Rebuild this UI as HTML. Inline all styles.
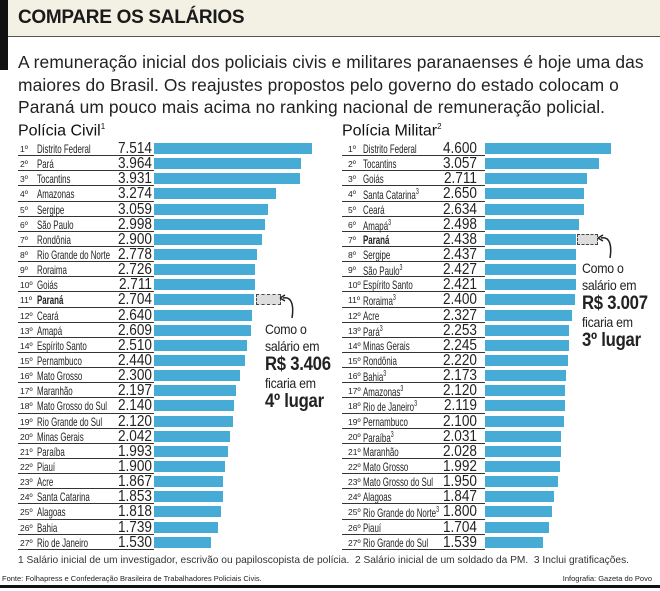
<!DOCTYPE html>
<html><head><meta charset="utf-8"><style>
*{margin:0;padding:0;box-sizing:border-box}
body{width:660px;height:591px;background:#fff;position:relative;overflow:hidden;font-family:"Liberation Sans",sans-serif;color:#222}
.band{position:absolute;left:0;top:0;width:660px;height:37px;background:#f3f1e4;border-bottom:1px solid #555}
.bar0{position:absolute;left:0;top:0;width:8px;height:70px;background:#111}
.title{position:absolute;left:18px;top:7px;font-weight:bold;font-size:19px;letter-spacing:-0.3px;color:#1a1a1a}
.para{position:absolute;left:18px;top:51px;font-size:17.4px;line-height:22.5px;color:#222;letter-spacing:0.1px;white-space:nowrap}
h2{position:absolute;font-size:16px;font-weight:normal;top:122px;color:#111}
h2 sup{font-size:8px}
.tbl{position:absolute;top:141px}
.r{position:relative;height:15.15px}
.lab{position:absolute;left:0;top:0;height:15.15px;border-bottom:1px solid #333}
.rk{position:absolute;top:3px;font-size:8.5px}
.nm{position:absolute;top:1px;font-size:12px;transform:scaleX(0.66);transform-origin:left;white-space:nowrap}
.nm sup{font-size:8px}
.v{position:absolute;top:-1px;font-size:16px;text-align:right;width:60px;transform:scaleX(0.85);transform-origin:right}
.b{position:absolute;top:2px;height:11px;background:#47acd5}
.ph{position:absolute;top:2px;height:11px;background:#ddd;border:1px dashed #444}
.ann{position:absolute;font-size:14px;line-height:17px;color:#222;letter-spacing:-0.3px;transform:scaleX(0.88);transform-origin:left;white-space:nowrap}
.ann b{font-size:19px;line-height:20px}
.foot{position:absolute;left:18px;top:555px;font-size:10.2px;color:#333;white-space:nowrap}
.src{position:absolute;top:574px;font-size:7.5px;color:#222;white-space:nowrap}
.bot{position:absolute;left:0;top:585px;width:660px;height:3px;background:#111}
</style></head><body>
<div class="band"></div><div class="bar0"></div>
<div class="title">COMPARE OS SALÁRIOS</div>
<div class="para">A remuneração inicial dos policiais civis e militares paranaenses é hoje uma das<br>maiores do Brasil. Os reajustes propostos pelo governo do estado colocam o<br>Paraná um pouco mais acima no ranking nacional de remuneração policial.</div>
<h2 style="left:18px">Polícia Civil<sup>1</sup></h2>
<h2 style="left:342px">Polícia Militar<sup>2</sup></h2>

<div class="tbl" style="left:18px">
<div class="r"><div class="lab" style="width:136px"><span class="rk" style="left:2px">1º</span><span class="nm" style="left:19px">Distrito Federal</span><span class="v" style="left:74px">7.514</span></div><div class="b" style="left:136px;width:158px"></div></div>
<div class="r"><div class="lab" style="width:136px"><span class="rk" style="left:2px">2º</span><span class="nm" style="left:19px">Pará</span><span class="v" style="left:74px">3.964</span></div><div class="b" style="left:136px;width:147px"></div></div>
<div class="r"><div class="lab" style="width:136px"><span class="rk" style="left:2px">3º</span><span class="nm" style="left:19px">Tocantins</span><span class="v" style="left:74px">3.931</span></div><div class="b" style="left:136px;width:146px"></div></div>
<div class="r"><div class="lab" style="width:136px"><span class="rk" style="left:2px">4º</span><span class="nm" style="left:19px">Amazonas</span><span class="v" style="left:74px">3.274</span></div><div class="b" style="left:136px;width:122px"></div></div>
<div class="r"><div class="lab" style="width:136px"><span class="rk" style="left:2px">5º</span><span class="nm" style="left:19px">Sergipe</span><span class="v" style="left:74px">3.059</span></div><div class="b" style="left:136px;width:114px"></div></div>
<div class="r"><div class="lab" style="width:136px"><span class="rk" style="left:2px">6º</span><span class="nm" style="left:19px">São Paulo</span><span class="v" style="left:74px">2.998</span></div><div class="b" style="left:136px;width:111px"></div></div>
<div class="r"><div class="lab" style="width:136px"><span class="rk" style="left:2px">7º</span><span class="nm" style="left:19px">Rondônia</span><span class="v" style="left:74px">2.900</span></div><div class="b" style="left:136px;width:108px"></div></div>
<div class="r"><div class="lab" style="width:136px"><span class="rk" style="left:2px">8º</span><span class="nm" style="left:19px">Rio Grande do Norte</span><span class="v" style="left:74px">2.778</span></div><div class="b" style="left:136px;width:103px"></div></div>
<div class="r"><div class="lab" style="width:136px"><span class="rk" style="left:2px">9º</span><span class="nm" style="left:19px">Roraima</span><span class="v" style="left:74px">2.726</span></div><div class="b" style="left:136px;width:101px"></div></div>
<div class="r"><div class="lab" style="width:136px"><span class="rk" style="left:2px">10º</span><span class="nm" style="left:19px">Goiás</span><span class="v" style="left:74px">2.711</span></div><div class="b" style="left:136px;width:101px"></div></div>
<div class="r"><div class="lab" style="width:136px"><span class="rk" style="left:2px">11º</span><span class="nm" style="left:19px;font-weight:bold">Paraná</span><span class="v" style="left:74px">2.704</span></div><div class="b" style="left:136px;width:100px"></div><div class="ph" style="left:238px;width:25px"></div></div>
<div class="r"><div class="lab" style="width:136px"><span class="rk" style="left:2px">12º</span><span class="nm" style="left:19px">Ceará</span><span class="v" style="left:74px">2.640</span></div><div class="b" style="left:136px;width:98px"></div></div>
<div class="r"><div class="lab" style="width:136px"><span class="rk" style="left:2px">13º</span><span class="nm" style="left:19px">Amapá</span><span class="v" style="left:74px">2.609</span></div><div class="b" style="left:136px;width:97px"></div></div>
<div class="r"><div class="lab" style="width:136px"><span class="rk" style="left:2px">14º</span><span class="nm" style="left:19px">Espírito Santo</span><span class="v" style="left:74px">2.510</span></div><div class="b" style="left:136px;width:93px"></div></div>
<div class="r"><div class="lab" style="width:136px"><span class="rk" style="left:2px">15º</span><span class="nm" style="left:19px">Pernambuco</span><span class="v" style="left:74px">2.440</span></div><div class="b" style="left:136px;width:91px"></div></div>
<div class="r"><div class="lab" style="width:136px"><span class="rk" style="left:2px">16º</span><span class="nm" style="left:19px">Mato Grosso</span><span class="v" style="left:74px">2.300</span></div><div class="b" style="left:136px;width:86px"></div></div>
<div class="r"><div class="lab" style="width:136px"><span class="rk" style="left:2px">17º</span><span class="nm" style="left:19px">Maranhão</span><span class="v" style="left:74px">2.197</span></div><div class="b" style="left:136px;width:82px"></div></div>
<div class="r"><div class="lab" style="width:136px"><span class="rk" style="left:2px">18º</span><span class="nm" style="left:19px">Mato Grosso do Sul</span><span class="v" style="left:74px">2.140</span></div><div class="b" style="left:136px;width:80px"></div></div>
<div class="r"><div class="lab" style="width:136px"><span class="rk" style="left:2px">19º</span><span class="nm" style="left:19px">Rio Grande do Sul</span><span class="v" style="left:74px">2.120</span></div><div class="b" style="left:136px;width:79px"></div></div>
<div class="r"><div class="lab" style="width:136px"><span class="rk" style="left:2px">20º</span><span class="nm" style="left:19px">Minas Gerais</span><span class="v" style="left:74px">2.042</span></div><div class="b" style="left:136px;width:76px"></div></div>
<div class="r"><div class="lab" style="width:136px"><span class="rk" style="left:2px">21º</span><span class="nm" style="left:19px">Paraíba</span><span class="v" style="left:74px">1.993</span></div><div class="b" style="left:136px;width:74px"></div></div>
<div class="r"><div class="lab" style="width:136px"><span class="rk" style="left:2px">22º</span><span class="nm" style="left:19px">Piauí</span><span class="v" style="left:74px">1.900</span></div><div class="b" style="left:136px;width:71px"></div></div>
<div class="r"><div class="lab" style="width:136px"><span class="rk" style="left:2px">23º</span><span class="nm" style="left:19px">Acre</span><span class="v" style="left:74px">1.867</span></div><div class="b" style="left:136px;width:69px"></div></div>
<div class="r"><div class="lab" style="width:136px"><span class="rk" style="left:2px">24º</span><span class="nm" style="left:19px">Santa Catarina</span><span class="v" style="left:74px">1.853</span></div><div class="b" style="left:136px;width:69px"></div></div>
<div class="r"><div class="lab" style="width:136px"><span class="rk" style="left:2px">25º</span><span class="nm" style="left:19px">Alagoas</span><span class="v" style="left:74px">1.818</span></div><div class="b" style="left:136px;width:67px"></div></div>
<div class="r"><div class="lab" style="width:136px"><span class="rk" style="left:2px">26º</span><span class="nm" style="left:19px">Bahia</span><span class="v" style="left:74px">1.739</span></div><div class="b" style="left:136px;width:64px"></div></div>
<div class="r"><div class="lab" style="width:136px"><span class="rk" style="left:2px">27º</span><span class="nm" style="left:19px">Rio de Janeiro</span><span class="v" style="left:74px">1.530</span></div><div class="b" style="left:136px;width:57px"></div></div>
</div>

<div class="tbl" style="left:342px">
<div class="r"><div class="lab" style="width:143px"><span class="rk" style="left:6px">1º</span><span class="nm" style="left:21px">Distrito Federal</span><span class="v" style="left:75px">4.600</span></div><div class="b" style="left:143px;width:126px"></div></div>
<div class="r"><div class="lab" style="width:143px"><span class="rk" style="left:6px">2º</span><span class="nm" style="left:21px">Tocantins</span><span class="v" style="left:75px">3.057</span></div><div class="b" style="left:143px;width:114px"></div></div>
<div class="r"><div class="lab" style="width:143px"><span class="rk" style="left:6px">3º</span><span class="nm" style="left:21px">Goiás</span><span class="v" style="left:75px">2.711</span></div><div class="b" style="left:143px;width:102px"></div></div>
<div class="r"><div class="lab" style="width:143px"><span class="rk" style="left:6px">4º</span><span class="nm" style="left:21px">Santa Catarina<sup>3</sup></span><span class="v" style="left:75px">2.650</span></div><div class="b" style="left:143px;width:99px"></div></div>
<div class="r"><div class="lab" style="width:143px"><span class="rk" style="left:6px">5º</span><span class="nm" style="left:21px">Ceará</span><span class="v" style="left:75px">2.634</span></div><div class="b" style="left:143px;width:99px"></div></div>
<div class="r"><div class="lab" style="width:143px"><span class="rk" style="left:6px">6º</span><span class="nm" style="left:21px">Amapá<sup>3</sup></span><span class="v" style="left:75px">2.498</span></div><div class="b" style="left:143px;width:94px"></div></div>
<div class="r"><div class="lab" style="width:143px"><span class="rk" style="left:6px">7º</span><span class="nm" style="left:21px;font-weight:bold">Paraná</span><span class="v" style="left:75px">2.438</span></div><div class="b" style="left:143px;width:91px"></div><div class="ph" style="left:235px;width:21px"></div></div>
<div class="r"><div class="lab" style="width:143px"><span class="rk" style="left:6px">8º</span><span class="nm" style="left:21px">Sergipe</span><span class="v" style="left:75px">2.437</span></div><div class="b" style="left:143px;width:91px"></div></div>
<div class="r"><div class="lab" style="width:143px"><span class="rk" style="left:6px">9º</span><span class="nm" style="left:21px">São Paulo<sup>3</sup></span><span class="v" style="left:75px">2.427</span></div><div class="b" style="left:143px;width:91px"></div></div>
<div class="r"><div class="lab" style="width:143px"><span class="rk" style="left:6px">10º</span><span class="nm" style="left:21px">Espírito Santo</span><span class="v" style="left:75px">2.421</span></div><div class="b" style="left:143px;width:91px"></div></div>
<div class="r"><div class="lab" style="width:143px"><span class="rk" style="left:6px">11º</span><span class="nm" style="left:21px">Roraima<sup>3</sup></span><span class="v" style="left:75px">2.400</span></div><div class="b" style="left:143px;width:90px"></div></div>
<div class="r"><div class="lab" style="width:143px"><span class="rk" style="left:6px">12º</span><span class="nm" style="left:21px">Acre</span><span class="v" style="left:75px">2.327</span></div><div class="b" style="left:143px;width:87px"></div></div>
<div class="r"><div class="lab" style="width:143px"><span class="rk" style="left:6px">13º</span><span class="nm" style="left:21px">Pará<sup>3</sup></span><span class="v" style="left:75px">2.253</span></div><div class="b" style="left:143px;width:84px"></div></div>
<div class="r"><div class="lab" style="width:143px"><span class="rk" style="left:6px">14º</span><span class="nm" style="left:21px">Minas Gerais</span><span class="v" style="left:75px">2.245</span></div><div class="b" style="left:143px;width:84px"></div></div>
<div class="r"><div class="lab" style="width:143px"><span class="rk" style="left:6px">15º</span><span class="nm" style="left:21px">Rondônia</span><span class="v" style="left:75px">2.220</span></div><div class="b" style="left:143px;width:83px"></div></div>
<div class="r"><div class="lab" style="width:143px"><span class="rk" style="left:6px">16º</span><span class="nm" style="left:21px">Bahia<sup>3</sup></span><span class="v" style="left:75px">2.173</span></div><div class="b" style="left:143px;width:81px"></div></div>
<div class="r"><div class="lab" style="width:143px"><span class="rk" style="left:6px">17º</span><span class="nm" style="left:21px">Amazonas<sup>3</sup></span><span class="v" style="left:75px">2.120</span></div><div class="b" style="left:143px;width:80px"></div></div>
<div class="r"><div class="lab" style="width:143px"><span class="rk" style="left:6px">18º</span><span class="nm" style="left:21px">Rio de Janeiro<sup>3</sup></span><span class="v" style="left:75px">2.119</span></div><div class="b" style="left:143px;width:80px"></div></div>
<div class="r"><div class="lab" style="width:143px"><span class="rk" style="left:6px">19º</span><span class="nm" style="left:21px">Pernambuco</span><span class="v" style="left:75px">2.100</span></div><div class="b" style="left:143px;width:79px"></div></div>
<div class="r"><div class="lab" style="width:143px"><span class="rk" style="left:6px">20º</span><span class="nm" style="left:21px">Paraíba<sup>3</sup></span><span class="v" style="left:75px">2.031</span></div><div class="b" style="left:143px;width:76px"></div></div>
<div class="r"><div class="lab" style="width:143px"><span class="rk" style="left:6px">21º</span><span class="nm" style="left:21px">Maranhão</span><span class="v" style="left:75px">2.028</span></div><div class="b" style="left:143px;width:76px"></div></div>
<div class="r"><div class="lab" style="width:143px"><span class="rk" style="left:6px">22º</span><span class="nm" style="left:21px">Mato Grosso</span><span class="v" style="left:75px">1.992</span></div><div class="b" style="left:143px;width:75px"></div></div>
<div class="r"><div class="lab" style="width:143px"><span class="rk" style="left:6px">23º</span><span class="nm" style="left:21px">Mato Grosso do Sul</span><span class="v" style="left:75px">1.950</span></div><div class="b" style="left:143px;width:73px"></div></div>
<div class="r"><div class="lab" style="width:143px"><span class="rk" style="left:6px">24º</span><span class="nm" style="left:21px">Alagoas</span><span class="v" style="left:75px">1.847</span></div><div class="b" style="left:143px;width:69px"></div></div>
<div class="r"><div class="lab" style="width:143px"><span class="rk" style="left:6px">25º</span><span class="nm" style="left:21px">Rio Grande do Norte<sup>3</sup></span><span class="v" style="left:75px">1.800</span></div><div class="b" style="left:143px;width:67px"></div></div>
<div class="r"><div class="lab" style="width:143px"><span class="rk" style="left:6px">26º</span><span class="nm" style="left:21px">Piauí</span><span class="v" style="left:75px">1.704</span></div><div class="b" style="left:143px;width:64px"></div></div>
<div class="r"><div class="lab" style="width:143px"><span class="rk" style="left:6px">27º</span><span class="nm" style="left:21px">Rio Grande do Sul</span><span class="v" style="left:75px">1.539</span></div><div class="b" style="left:143px;width:58px"></div></div>
</div>

<svg style="position:absolute;left:0;top:0" width="660" height="591">
<path d="M283,298 C292,296 294,306 292,318" fill="none" stroke="#222" stroke-width="1.5"/>
<path d="M280,298 l5,-3 M280,298 l5,3" stroke="#222" stroke-width="1.5"/>
<path d="M601,238 C610,236 612,246 610,258" fill="none" stroke="#222" stroke-width="1.5"/>
<path d="M598,238 l5,-3 M598,238 l5,3" stroke="#222" stroke-width="1.5"/>
</svg>
<div class="ann" style="left:265px;top:321px">Como o<br>salário em<br><b>R$ 3.406</b><br>ficaria em<br><b>4º lugar</b></div>
<div class="ann" style="left:582px;top:260px">Como o<br>salário em<br><b>R$ 3.007</b><br>ficaria em<br><b>3º lugar</b></div>

<div class="foot">1 Salário inicial de um investigador, escrivão ou papiloscopista de polícia. &nbsp;2 Salário inicial de um soldado da PM. &nbsp;3 Inclui gratificações.</div>
<div class="src" style="left:2px">Fonte: Folhapress e Confederação Brasileira de Trabalhadores Policiais Civis.</div>
<div class="src" style="right:8px">Infografia: Gazeta do Povo</div>
<div class="bot"></div>
</body></html>
